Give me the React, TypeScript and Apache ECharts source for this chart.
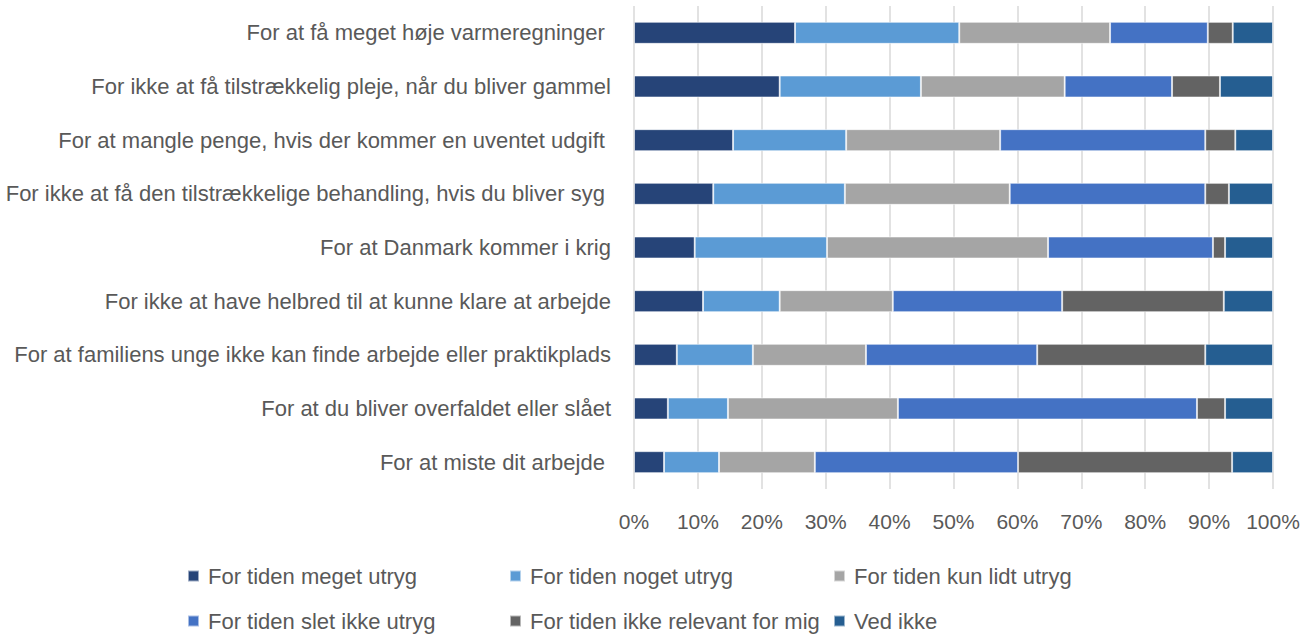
import React, { useEffect, useRef } from "react";
import * as echarts from "echarts";

const categories = [
  "For at få meget høje varmeregninger ",
  "For ikke at få tilstrækkelig pleje, når du bliver gammel",
  "For at mangle penge, hvis der kommer en uventet udgift ",
  "For ikke at få den tilstrækkelige behandling, hvis du bliver syg ",
  "For at Danmark kommer i krig",
  "For ikke at have helbred til at kunne klare at arbejde",
  "For at familiens unge ikke kan finde arbejde eller praktikplads",
  "For at du bliver overfaldet eller slået",
  "For at miste dit arbejde ",
];

const seriesNames = [
  "For tiden meget utryg",
  "For tiden noget utryg",
  "For tiden kun lidt utryg",
  "For tiden slet ikke utryg",
  "For tiden ikke relevant for mig",
  "Ved ikke",
];

const megetUtryg = [25.2, 22.8, 15.5, 12.4, 9.5, 10.8, 6.7, 5.3, 4.7];
const nogetUtryg = [25.7, 22.1, 17.7, 20.6, 20.7, 12.0, 11.9, 9.4, 8.6];
const lidtUtryg = [23.6, 22.5, 24.1, 25.8, 34.6, 17.7, 17.7, 26.6, 15.0];
const sletIkkeUtryg = [15.3, 16.8, 32.1, 30.6, 25.8, 26.5, 26.8, 46.8, 31.8];
const ikkeRelevant = [3.9, 7.5, 4.7, 3.7, 1.9, 25.3, 26.3, 4.4, 33.5];
const vedIkke = [6.3, 8.3, 5.9, 6.9, 7.5, 7.7, 10.6, 7.5, 6.4];

const colors = ["#264478", "#5B9BD5", "#A5A5A5", "#4472C4", "#636363", "#255E91"];

const FONT = "Liberation Sans";
const TEXT = "#595959";

export default function App() {
  const ref = useRef<HTMLDivElement>(null);
  useEffect(() => {
    if (!ref.current) return;
    const chart = echarts.init(ref.current, undefined, { renderer: "svg" });
    const values = [megetUtryg, nogetUtryg, lidtUtryg, sletIkkeUtryg, ikkeRelevant, vedIkke];
    const colLeft = [182, 504, 828];
    const rowTop = [560, 605];
    const legendOrder = [0, 1, 2, 3, 4, 5];
    chart.setOption({
      animation: false,
      textStyle: { fontFamily: FONT },
      grid: { left: 634, right: 43, top: 6, bottom: 145, containLabel: false },
      legend: legendOrder.map((i) => ({
        orient: "horizontal",
        left: colLeft[i % 3],
        top: rowTop[Math.floor(i / 3)],
        itemWidth: 11,
        itemHeight: 11,
        icon: "rect",
        data: [seriesNames[i]],
        textStyle: {
          color: TEXT,
          fontSize: 22,
          lineHeight: 20,
          fontFamily: FONT,
          padding: [0, 0, 0, 4],
        },
        selectedMode: false,
      })),
      xAxis: {
        type: "value",
        min: 0,
        max: 100,
        interval: 10,
        axisLine: { show: false },
        axisTick: { show: false },
        splitLine: { show: true, lineStyle: { color: "#d9d9d9", width: 1.5 } },
        axisLabel: {
          formatter: "{value}%",
          color: TEXT,
          fontSize: 21,
          margin: 22,
          fontFamily: FONT,
        },
      },
      yAxis: {
        type: "category",
        data: categories,
        inverse: true,
        axisLine: { show: false },
        axisTick: { show: false },
        axisLabel: { color: TEXT, fontSize: 22, margin: 23, fontFamily: FONT },
      },
      series: seriesNames.map((name, i) => ({
        name,
        type: "bar",
        stack: "total",
        barWidth: 22,
        data: values[i],
        itemStyle: { color: colors[i], borderColor: "rgba(255,255,255,0.55)", borderWidth: 1 },
      })),
    });
    return () => chart.dispose();
  }, []);
  return (
    <div
      ref={ref}
      style={{ position: "absolute", left: 0, top: 0, width: 1316, height: 634 }}
    />
  );
}
